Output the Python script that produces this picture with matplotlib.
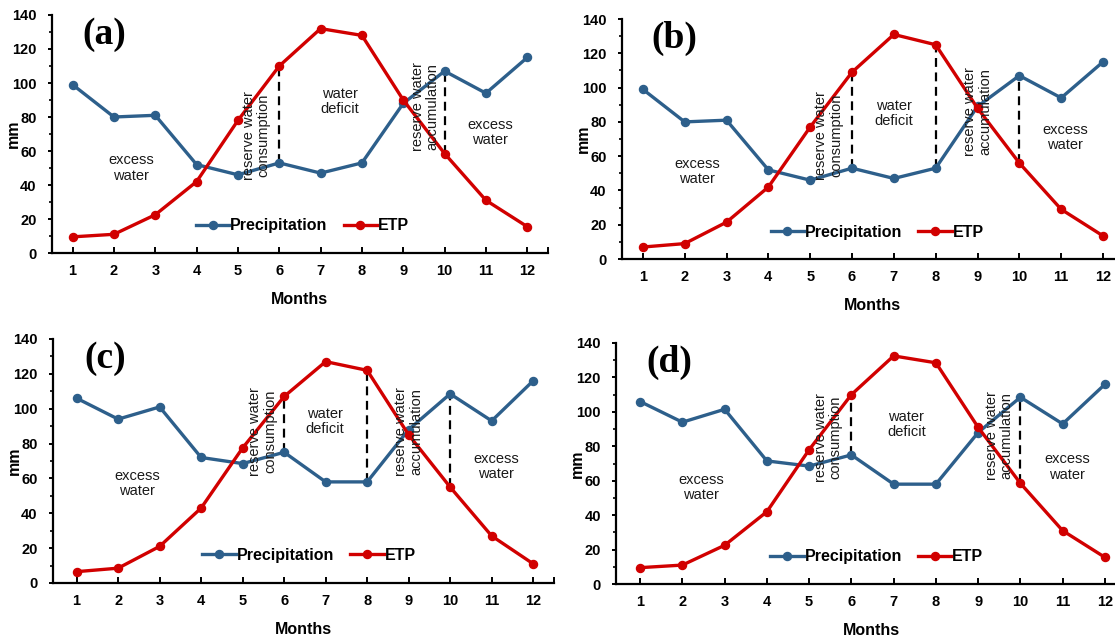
import matplotlib
matplotlib.use("Agg")
import matplotlib.pyplot as plt
from matplotlib.ticker import MultipleLocator, FixedLocator

plt.rcParams['font.family'] = ['Liberation Sans', 'DejaVu Sans']

# datos
months = [1, 2, 3, 4, 5, 6, 7, 8, 9, 10, 11, 12]

precip_a = [99, 80, 81, 52, 46, 53, 47, 53, 88, 107, 94, 115]
etp_a = [9.5, 11, 22.5, 42, 78, 110, 132, 128, 90, 58.5, 31, 15.5]

precip_b = [99, 80, 81, 52, 46, 53, 47, 53, 89, 107, 94, 115]
etp_b = [7, 9, 21.5, 42, 77, 109, 131, 125, 88, 56, 29, 13.5]

precip_c = [106, 94, 101, 72, 68.5, 75, 58, 58, 88, 108.5, 93, 116]
etp_c = [6.5, 8.5, 21, 43, 77.5, 107, 127, 122, 85, 55, 27, 11]

precip_d = [106, 94, 101.5, 71.5, 68.5, 75, 58, 58, 88, 108.5, 93, 116]
etp_d = [9.5, 11, 22.5, 42, 78, 110, 132.5, 128.5, 91, 58.5, 31, 15.5]

dash_a = [6, 10]
dash_b = [6, 8, 10]
dash_c = [6, 8, 10]
dash_d = [6, 10]

labels = ["(a)", "(b)", "(c)", "(d)"]
series_names = ["Precipitation", "ETP"]

BLUE = "#2D5F8B"
RED = "#D10000"

fig = plt.figure(figsize=(11.15, 6.41), dpi=100)

# posicion de cada panel: rect, xlim izquierdo, textos (x, y) en datos
panels = [
    dict(rect=[0.0466, 0.6053, 0.4448, 0.3713], x0=0.5, p=precip_a, e=etp_a, d=dash_a,
         txt=[(2.42, 50), (5.44, 69), (7.47, 89), (9.53, 86), (11.1, 71)], leg=(6.56, 16)),
    dict(rect=[0.5578, 0.5959, 0.4502, 0.3744], x0=0.5, p=precip_b, e=etp_b, d=dash_b,
         txt=[(2.3, 51), (5.44, 72), (7.0, 85), (9.0, 86), (11.1, 71)], leg=(6.6, 15.6)),
    dict(rect=[0.0475, 0.0905, 0.4493, 0.3807], x0=0.43, p=precip_c, e=etp_c, d=dash_c,
         txt=[(2.46, 57), (5.48, 87), (6.98, 92.5), (9.0, 87), (11.1, 66.7)], leg=(6.6, 16)),
    dict(rect=[0.5525, 0.0889, 0.4574, 0.3760], x0=0.43, p=precip_d, e=etp_d, d=dash_d,
         txt=[(2.45, 56), (5.45, 85), (7.3, 92.5), (9.5, 86), (11.1, 68)], leg=(6.6, 15.7)),
]

notes = ["excess\nwater", "reserve water\nconsumption", "water\ndeficit",
         "reserve water\naccumulation", "excess\nwater"]
rotations = [0, 90, 0, 90, 0]

for lab, pn in zip(labels, panels):
    ax = fig.add_axes(pn["rect"])
    p, e = pn["p"], pn["e"]

    # lineas discontinuas entre las dos series
    for m in pn["d"]:
        i = months.index(m)
        ax.vlines(m, min(p[i], e[i]), max(p[i], e[i]), colors="black",
                  linestyles=(0, (4, 2.5)), linewidth=1.6, zorder=1)

    l1, = ax.plot(months, p, color=BLUE, lw=2.4, marker="o", ms=5.8, zorder=3)
    l2, = ax.plot(months, e, color=RED, lw=2.4, marker="o", ms=5.8, zorder=4)

    for (tx, ty), s, r in zip(pn["txt"], notes, rotations):
        ax.text(tx, ty, s, ha="center", va="center", rotation=r, fontsize=10.5,
                color="#1a1a1a", linespacing=1.1, zorder=5)

    ax.legend([l1, l2], series_names, loc="center", bbox_to_anchor=pn["leg"],
              bbox_transform=ax.transData, ncol=2, frameon=False,
              handlelength=2.1, handletextpad=0.05, columnspacing=1.0,
              borderpad=0, prop=dict(weight="bold", size=11.5))

    ax.text(0.105, 0.92, lab, transform=ax.transAxes, ha="center", va="center",
            fontsize=27, fontweight="bold", family="Liberation Serif")

    ax.set_xlim(pn["x0"], 12.5)
    ax.set_ylim(0, 140)
    ax.set_xticks(months)
    ax.xaxis.set_minor_locator(FixedLocator([12.5]))
    ax.yaxis.set_major_locator(MultipleLocator(20))
    ax.yaxis.set_minor_locator(MultipleLocator(10))
    ax.tick_params(axis="x", direction="in", length=4, width=1.4, pad=8, labelsize=10.5)
    ax.tick_params(axis="x", which="minor", direction="in", length=4, width=1.4)
    ax.tick_params(axis="y", direction="out", length=3, width=1.4, pad=8, labelsize=10.5)
    ax.tick_params(axis="y", which="minor", direction="out", length=2, width=1.2)
    for t in ax.get_xticklabels() + ax.get_yticklabels():
        t.set_fontweight("bold")

    for s in ["top", "right"]:
        ax.spines[s].set_visible(False)
    for s in ["left", "bottom"]:
        ax.spines[s].set_linewidth(1.6)

    ax.set_xlabel("Months", fontsize=11.5, fontweight="bold", labelpad=10)
    ax.set_ylabel("mm", fontsize=11.5, fontweight="bold")
    ax.yaxis.set_label_coords(-0.062, 0.5)
    ax.patch.set_alpha(0)

fig.savefig("out.png", dpi=100)
